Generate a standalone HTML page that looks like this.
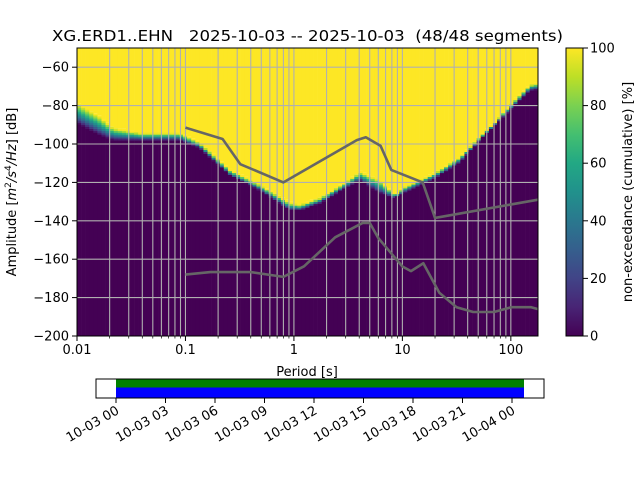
<!DOCTYPE html>
<html><head><meta charset="utf-8"><style>
body{margin:0;background:#fff;}
svg{display:block;font-family:"DejaVu Sans","Liberation Sans",sans-serif;}
</style></head><body>
<svg id="chart" width="640" height="480" viewBox="0 0 640 480" xmlns="http://www.w3.org/2000/svg">
<rect width="640" height="480" fill="#fff"/>
<text x="52" y="41" font-size="15" textLength="511" lengthAdjust="spacingAndGlyphs" xml:space="preserve">XG.ERD1..EHN   2025-10-03 -- 2025-10-03  (48/48 segments)</text>
<g id="heat"></g>
<g id="grid"></g>
<g id="models"></g>
<rect x="77" y="48" width="461" height="288" fill="none" stroke="#000" stroke-width="1"/>
<g id="axes"></g>
<text x="307" y="376" font-size="13" text-anchor="middle">Period [s]</text>
<text transform="translate(16,192) rotate(-90)" font-size="13" text-anchor="middle">Amplitude [<tspan font-style="italic">m</tspan><tspan font-size="9" dy="-5">2</tspan><tspan dy="5" font-style="italic">/s</tspan><tspan font-size="9" dy="-5">4</tspan><tspan dy="5" font-style="italic">/Hz</tspan><tspan>] [dB]</tspan></text>
<defs><linearGradient id="vir" x1="0" y1="1" x2="0" y2="0">
<stop offset="0" stop-color="#440154"/><stop offset="0.1" stop-color="#482475"/><stop offset="0.2" stop-color="#414487"/><stop offset="0.3" stop-color="#355f8d"/><stop offset="0.4" stop-color="#2a788e"/><stop offset="0.5" stop-color="#21918c"/><stop offset="0.6" stop-color="#22a884"/><stop offset="0.7" stop-color="#44bf70"/><stop offset="0.8" stop-color="#7ad151"/><stop offset="0.9" stop-color="#bddf26"/><stop offset="1" stop-color="#fde725"/>
</linearGradient></defs>
<rect x="566" y="48" width="17" height="288" fill="url(#vir)" stroke="#000" stroke-width="1"/>
<g id="cbticks"></g>
<text transform="translate(632,192) rotate(-90)" font-size="13" text-anchor="middle">non-exceedance (cumulative) [%]</text>
<g id="timeline"></g>
</svg>
<script>
const anchorPeriods=[0.01,0.0163,0.0215,0.038,0.089,0.136,0.257,0.486,0.918,1.135,1.74,2.95,4.06,6.2,8.53,10.5,20,34,51.8,79,109,150,178];
const psdUpper=[-78.8,-86,-91.8,-94.4,-94.4,-99.6,-113.6,-121.5,-130.8,-131.9,-128.2,-120.4,-114.7,-118.9,-126.7,-122.5,-115.2,-106.9,-96.5,-86,-77.2,-69.4,-68.5];
const psdLower=[-89.2,-95.4,-98,-98,-98,-102.2,-116.3,-124.1,-134.5,-134.5,-130.8,-123,-118.9,-125.6,-128.2,-125.1,-117.8,-109.5,-98,-87.6,-79.8,-72,-71.5];
const nhnmPeriods=[0.1,0.22,0.32,0.8,3.8,4.6,6.3,7.9,15.4,20,178];
const nhnmValues=[-91.5,-97.4,-110.5,-120,-98,-96.5,-101,-113.5,-120,-138.5,-129];
const nlnmPeriods=[0.1,0.17,0.4,0.8,1.24,2.4,4.3,5,6,10,12,15.6,21.9,31.6,45,70,101,154,178];
const nlnmValues=[-168,-166.7,-166.7,-169.2,-163.7,-148.6,-141.1,-141.1,-149,-163.8,-166.2,-162.1,-177.5,-185,-187.5,-187.5,-185,-185,-186];
const yTicks=[-60,-80,-100,-120,-140,-160,-180,-200];
const xTickLabels=["0.01","0.1","1","10","100"];
const cbTicks=[0,20,40,60,80,100];
const timeLabels=["10-03 00","10-03 03","10-03 06","10-03 09","10-03 12","10-03 15","10-03 18","10-03 21","10-04 00"];
const NS="http://www.w3.org/2000/svg";
const X0=77,X1=538,Y0=48,Y1=336,LMIN=-2,LMAX=Math.log10(178),DBMIN=-200,DBMAX=-50;
const xs=p=>X0+(Math.log10(p)-LMIN)/(LMAX-LMIN)*(X1-X0);
const ys=d=>Y1-(d-DBMIN)/(DBMAX-DBMIN)*(Y1-Y0);
function mk(tag,attrs,parent){const e=document.createElementNS(NS,tag);for(const k in attrs)e.setAttribute(k,attrs[k]);parent.appendChild(e);return e;}
const stops=["#440154","#482475","#414487","#355f8d","#2a788e","#21918c","#22a884","#44bf70","#7ad151","#bddf26","#fde725"];
function hx(c){return [1,3,5].map(i=>parseInt(c.substr(i,2),16));}
function vir(t){t=Math.max(0,Math.min(1,t));const f=t*10,i=Math.min(9,Math.floor(f)),r=f-i;const a=hx(stops[i]),b=hx(stops[i+1]);return "rgb("+a.map((v,k)=>Math.round(v+(b[k]-v)*r)).join(",")+")";}
function interp(P,V,p){const lp=Math.log10(p);const L=P.map(Math.log10);if(lp<=L[0])return V[0];for(let i=1;i<L.length;i++){if(lp<=L[i]){const r=(lp-L[i-1])/(L[i]-L[i-1]);return V[i-1]+(V[i]-V[i-1])*r;}}return V[V.length-1];}
const heat=document.getElementById('heat');
const step=0.0376;
for(let l=LMIN;l<LMAX;l+=step){
  const pc=Math.pow(10,l+step/2);
  const up=interp(anchorPeriods,psdUpper,pc),lo=interp(anchorPeriods,psdLower,pc);
  const xa=xs(Math.pow(10,l)),xb=Math.min(X1,xs(Math.pow(10,l+step)));
  const lb=Math.floor(lo),ub=Math.ceil(up);
  let r=mk('rect',{x:xa,y:Y0,width:xb-xa+0.3,height:ys(ub)-Y0,fill:'#fde725'},heat);
  
  
  r=mk('rect',{x:xa,y:ys(lb),width:xb-xa+0.3,height:Y1-ys(lb),fill:'#440154'},heat);
  
  
  for(let d=lb;d<ub;d++){
    const t=(d+0.5-lo)/Math.max(0.5,up-lo);
    const c=mk('rect',{x:xa,y:ys(d+1),width:xb-xa+0.3,height:ys(d)-ys(d+1)+0.3,fill:vir(t)},heat);
    
    
  }
}
const grid=document.getElementById('grid'),axes=document.getElementById('axes');
for(let d=-2;d<=2;d++)for(let k=1;k<=9;k++){const p=k*Math.pow(10,d);if(Math.log10(p)>LMAX)continue;const x=xs(p);
  if(k>1||d>-2){const g=mk('line',{x1:x,x2:x,y1:Y0,y2:Y1,stroke:'#b0b0b0','stroke-width':1.1},grid);}
  const t=mk('line',{x1:x,x2:x,y1:Y1,y2:Y1+(k==1?5:2.5),stroke:'#000','stroke-width':k==1?1:0.7},axes);}
xTickLabels.forEach(s=>{const t=mk('text',{x:xs(parseFloat(s)),y:Y1+18,'font-size':13,'text-anchor':'middle'},axes);t.textContent=s;});
yTicks.forEach(v=>{const y=ys(v);
  if(v>-200){const g=mk('line',{x1:X0,x2:X1,y1:y,y2:y,stroke:'#b0b0b0','stroke-width':1.1},grid);}
  const t=mk('line',{x1:X0-5,x2:X0,y1:y,y2:y,stroke:'#000'},axes);
  const l=mk('text',{x:X0-8,y:y+4.5,'font-size':13,'text-anchor':'end'},axes);l.textContent=String(v).replace('-','\u2212');});
const models=document.getElementById('models');
[[nhnmPeriods,nhnmValues,'nhnm-line'],[nlnmPeriods,nlnmValues,'nlnm-line']].forEach(([P,V,n])=>{
  const pl=mk('polyline',{points:P.map((p,i)=>xs(p)+','+ys(V[i])).join(' '),fill:'none',stroke:'#666','stroke-width':2.6,'stroke-linejoin':'round'},models);
  });
const cb=document.getElementById('cbticks');
cbTicks.forEach(v=>{const y=Y1-v/100*(Y1-Y0);const t=mk('line',{x1:583,x2:588,y1:y,y2:y,stroke:'#000'},cb);
  const l=mk('text',{x:590,y:y+4.5,'font-size':13},cb);l.textContent=v;});
const tl=document.getElementById('timeline');
let fr=mk('rect',{x:96,y:379,width:448,height:19,fill:'#fff',stroke:'#000','stroke-width':1},tl);
let g1=mk('rect',{x:116,y:379.5,width:408,height:8,fill:'#008000'},tl);
let b1=mk('rect',{x:116,y:387.5,width:408,height:10,fill:'#0000ff'},tl);
timeLabels.forEach((s,i)=>{const x=116+i*49.5;const t=mk('line',{x1:x,x2:x,y1:398,y2:403,stroke:'#000'},tl);
  const l=mk('text',{'font-size':13,'text-anchor':'end',transform:'translate('+(x+4)+',413) rotate(-30)'},tl);l.textContent=s;});
</script>
</body></html>
